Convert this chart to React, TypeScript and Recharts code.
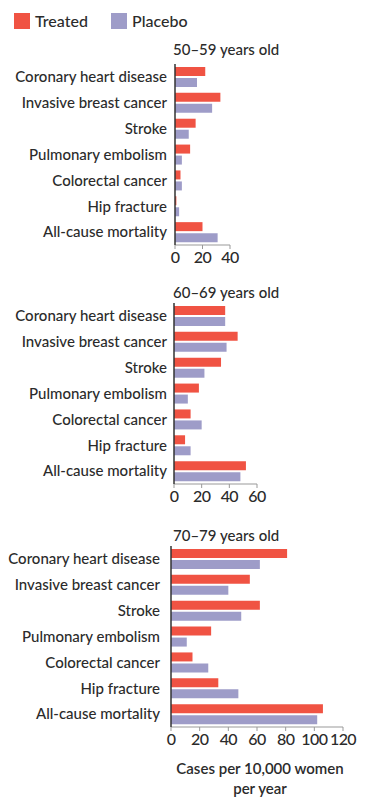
import React from 'react';
import { BarChart, Bar, XAxis, YAxis } from 'recharts';

const categories = [
  'Coronary heart disease',
  'Invasive breast cancer',
  'Stroke',
  'Pulmonary embolism',
  'Colorectal cancer',
  'Hip fracture',
  'All-cause mortality',
];

const treated5059 = [22, 33, 15, 11, 4, 1, 20];
const placebo5059 = [16, 27, 10, 5, 5, 3, 31];
const treated6069 = [37, 46, 34, 18, 12, 8, 52];
const placebo6069 = [37, 38, 22, 10, 20, 12, 48];
const treated7079 = [81, 55, 62, 28, 15, 33, 106];
const placebo7079 = [62, 40, 49, 11, 26, 47, 102];

const ticks5059 = [0, 20, 40];
const ticks6069 = [0, 20, 40, 60];
const ticks7079 = [0, 20, 40, 60, 80, 100, 120];

const RED = '#f05343';
const PURPLE = '#9e9cc8';
const TEXT = '#2b2b2b';

const buildRows = (treated: number[], placebo: number[]) =>
  categories.map((name, i) => ({ name, Treated: treated[i], Placebo: placebo[i] }));

interface PanelProps {
  top: number;
  titleY: number;
  title: string;
  treated: number[];
  placebo: number[];
  ticks: number[];
  axisLeft: number;
  plotWidth: number;
  labelGap: number;
}

const Panel: React.FC<PanelProps> = ({ top, titleY, title, treated, placebo, ticks, axisLeft, plotWidth, labelGap }) => {
  const data = buildRows(treated, placebo);
  return (
    <>
      <div style={{ position: 'absolute', left: 173, top: titleY - 9, fontSize: 15, fontWeight: 500, color: TEXT, lineHeight: '18px' }}>
        {title}
      </div>
      <div style={{ position: 'absolute', left: 0, top }}>
        <BarChart
          width={370}
          height={215}
          data={data}
          layout="vertical"
          margin={{ top: 4, right: 370 - axisLeft - plotWidth, bottom: 0, left: 0 }}
          barSize={9}
          barGap={2}
        >
          <XAxis
            type="number"
            domain={[0, ticks[ticks.length - 1]]}
            ticks={ticks}
            height={30}
            stroke="#999"
            tickSize={4}
            tickMargin={3}
            tick={{ fill: TEXT, fontSize: 16, fontWeight: 500, letterSpacing: -0.6 }}
            interval={0}
          />
          <YAxis
            type="category"
            dataKey="name"
            width={axisLeft}
            tickLine={false}
            tickSize={0}
            tickMargin={labelGap}
            axisLine={{ stroke: '#333', strokeWidth: 1.5 }}
            tick={{ fill: TEXT, fontSize: 15, fontWeight: 500 }}
            interval={0}
          />
          <Bar dataKey="Treated" fill={RED} isAnimationActive={false} />
          <Bar dataKey="Placebo" fill={PURPLE} isAnimationActive={false} />
        </BarChart>
      </div>
    </>
  );
};

const LegendItem = ({ x, color, label }: { x: number; color: string; label: string }) => (
  <div style={{ position: 'absolute', left: x, top: 13, display: 'flex', alignItems: 'center' }}>
    <div style={{ width: 16, height: 16, background: color }} />
    <span style={{ marginLeft: 5, fontSize: 16, fontWeight: 500, color: TEXT, lineHeight: '16px' }}>{label}</span>
  </div>
);

export default function App() {
  return (
    <div
      style={{
        position: 'absolute',
        left: 0,
        top: 0,
        width: 370,
        height: 806,
        background: '#fff',
        fontFamily: 'Lato, sans-serif',
      }}
    >
      <LegendItem x={14} color={RED} label="Treated" />
      <LegendItem x={111} color={PURPLE} label="Placebo" />

      <Panel
        top={60}
        titleY={49}
        title="50–59 years old"
        treated={treated5059}
        placebo={placebo5059}
        ticks={ticks5059}
        axisLeft={175}
        plotWidth={55}
        labelGap={8}
      />
      <Panel
        top={299}
        titleY={292}
        title="60–69 years old"
        treated={treated6069}
        placebo={placebo6069}
        ticks={ticks6069}
        axisLeft={174}
        plotWidth={83}
        labelGap={7}
      />
      <Panel
        top={542}
        titleY={535}
        title="70–79 years old"
        treated={treated7079}
        placebo={placebo7079}
        ticks={ticks7079}
        axisLeft={171}
        plotWidth={172}
        labelGap={11}
      />

      <div
        style={{
          position: 'absolute',
          left: 160,
          width: 200,
          top: 758,
          textAlign: 'center',
          fontSize: 15,
          fontWeight: 600,
          color: TEXT,
          lineHeight: '20px',
        }}
      >
        Cases per 10,000 women
        <br />
        per year
      </div>
    </div>
  );
}
